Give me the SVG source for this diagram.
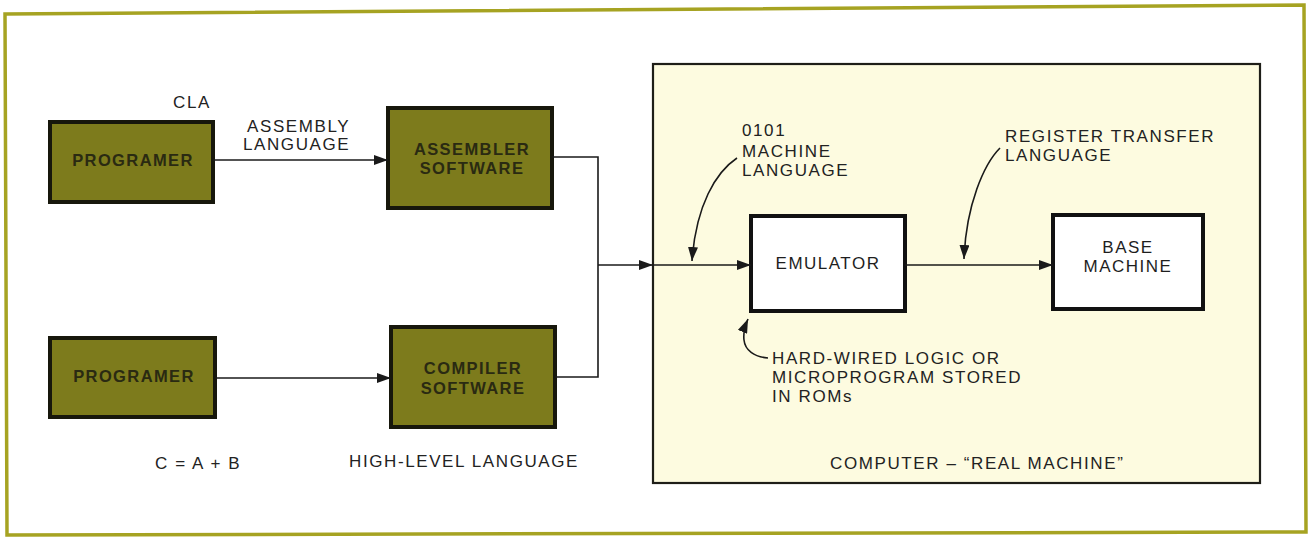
<svg xmlns="http://www.w3.org/2000/svg" width="1310" height="537" viewBox="0 0 1310 537">
<style>
.frame{fill:#ffffff;stroke:#a6a322;stroke-width:3.5}
.comp{fill:#fdfbe0;stroke:#1e1e18;stroke-width:2.2}
.green{fill:#7d7b1c;stroke:#17170c;stroke-width:4}
.white{fill:#ffffff;stroke:#111111;stroke-width:4}
.line{fill:none;stroke:#1a1a1a;stroke-width:1.6}
.t{font-family:"Liberation Sans",Arial,sans-serif;font-size:17px;letter-spacing:1.6px;fill:#222222}
.bt{font-family:"Liberation Sans",Arial,sans-serif;font-size:16.5px;font-weight:bold;letter-spacing:1.4px;fill:#2a2a12;text-anchor:middle}
.wt{font-family:"Liberation Sans",Arial,sans-serif;font-size:17px;letter-spacing:1.5px;fill:#1e1e1e;text-anchor:middle}
</style>
<defs>
<marker id="ah" viewBox="0 0 14 10" refX="14" refY="5" markerWidth="14" markerHeight="10" markerUnits="userSpaceOnUse" orient="auto">
<path d="M0,0 L14,5 L0,10 Z" fill="#1a1a1a"/>
</marker>
</defs>
<polygon class="frame" points="5,14 1304,5 1306,532 7,535"/>
<g id="computer">
<rect class="comp" x="653" y="64" width="607" height="419"/>
<text class="t" x="830" y="469">COMPUTER – “REAL MACHINE”</text>
</g>
<g id="programer1">
<rect class="green" x="50" y="122" width="163" height="80"/>
<text class="bt" x="133" y="166">PROGRAMER</text>
</g>
<g id="assembler">
<rect class="green" x="388" y="108" width="164" height="100"/>
<text class="bt" x="472" y="155">ASSEMBLER</text>
<text class="bt" x="472" y="174">SOFTWARE</text>
</g>
<g id="programer2">
<rect class="green" x="50" y="338" width="165" height="79"/>
<text class="bt" x="134" y="382">PROGRAMER</text>
</g>
<g id="compiler">
<rect class="green" x="391" y="327" width="164" height="100"/>
<text class="bt" x="473" y="374">COMPILER</text>
<text class="bt" x="473" y="394">SOFTWARE</text>
</g>
<g id="emulator">
<rect class="white" x="751" y="216" width="154" height="95"/>
<text class="wt" x="828" y="269">EMULATOR</text>
</g>
<g id="base-machine">
<rect class="white" x="1053" y="215" width="150" height="94"/>
<text class="wt" x="1128" y="253">BASE</text>
<text class="wt" x="1128" y="272">MACHINE</text>
</g>
<g id="labels">
<text class="t" x="173" y="108">CLA</text>
<text class="t" x="247" y="132">ASSEMBLY</text>
<text class="t" x="243" y="150">LANGUAGE</text>
<text class="t" x="155" y="469">C = A + B</text>
<text class="t" x="349" y="467">HIGH-LEVEL LANGUAGE</text>
<text class="t" x="742" y="136">0101</text>
<text class="t" x="742" y="157">MACHINE</text>
<text class="t" x="742" y="176">LANGUAGE</text>
<text class="t" x="1005" y="142">REGISTER TRANSFER</text>
<text class="t" x="1005" y="161">LANGUAGE</text>
<text class="t" x="772" y="364">HARD-WIRED LOGIC OR</text>
<text class="t" x="772" y="383">MICROPROGRAM STORED</text>
<text class="t" x="772" y="402">IN ROMs</text>
</g>
<g id="connectors">
<path class="line" d="M213,160 H388" marker-end="url(#ah)"/>
<path class="line" d="M215,378 H391" marker-end="url(#ah)"/>
<path class="line" d="M552,157 H598 V377 H555"/>
<path class="line" d="M598,265 H653" marker-end="url(#ah)"/>
<path class="line" d="M653,265 H751" marker-end="url(#ah)"/>
<path class="line" d="M905,265 H1053" marker-end="url(#ah)"/>
<path class="line" d="M737,158 C716,172 696,205 692,261" marker-end="url(#ah)"/>
<path class="line" d="M1000,148 C984,164 966,205 964,259" marker-end="url(#ah)"/>
<path class="line" d="M768,358 C754,357 745,350 744,340 C743,332 745,326 748,319" marker-end="url(#ah)"/>
</g>
</svg>
